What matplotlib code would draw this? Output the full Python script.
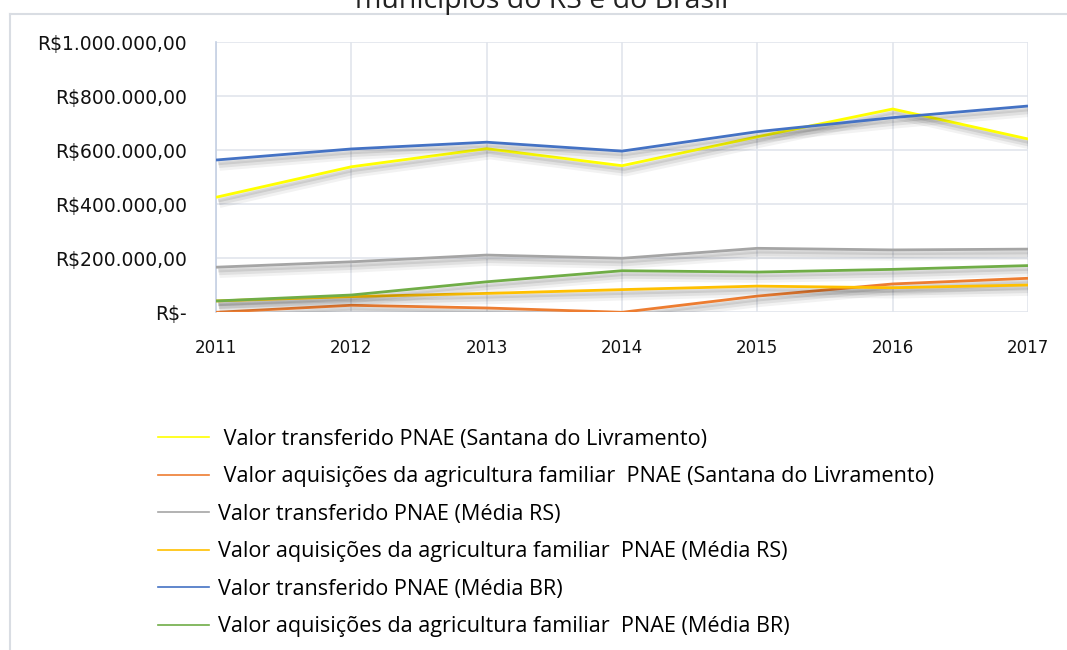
import matplotlib
matplotlib.use("Agg")
import matplotlib.pyplot as plt
import matplotlib.patheffects as pe
from matplotlib.lines import Line2D

years = [2011, 2012, 2013, 2014, 2015, 2016, 2017]

transf_santana = [426000, 539000, 606000, 543000, 650000, 753000, 642000]
aquis_santana = [0, 26000, 16000, 0, 60000, 105000, 126000]
transf_rs = [167000, 187000, 212000, 200000, 237000, 231000, 234000]
aquis_rs = [42000, 58000, 70000, 84000, 97000, 91000, 101000]
transf_br = [564000, 605000, 630000, 597000, 669000, 721000, 764000]
aquis_br = [42000, 64000, 113000, 154000, 149000, 159000, 173000]

labels = [
    " Valor transferido PNAE (Santana do Livramento)",
    " Valor aquisições da agricultura familiar  PNAE (Santana do Livramento)",
    "Valor transferido PNAE (Média RS)",
    "Valor aquisições da agricultura familiar  PNAE (Média RS)",
    "Valor transferido PNAE (Média BR)",
    "Valor aquisições da agricultura familiar  PNAE (Média BR)",
]
series = [transf_santana, aquis_santana, transf_rs, aquis_rs, transf_br, aquis_br]
colors = ["#FFFF00", "#ED7D31", "#A5A5A5", "#FFC000", "#4472C4", "#70AD47"]

yticks = [0, 200000, 400000, 600000, 800000, 1000000]
ytick_labels = ["R$-", "R$200.000,00", "R$400.000,00", "R$600.000,00",
                "R$800.000,00", "R$1.000.000,00"]

title = "municípios do RS e do Brasil"

plt.rcParams['font.family'] = ['Open Sans', 'DejaVu Sans']

W, H = 1067, 650
fig = plt.figure(figsize=(W / 100, H / 100), dpi=100)

# outer chart border (left and top only visible)
fig.add_artist(Line2D([10 / W, 10 / W], [0, 1 - 14 / H], transform=fig.transFigure,
                      color="#D9DDE3", lw=1.5))
fig.add_artist(Line2D([10 / W, 1], [1 - 14 / H, 1 - 14 / H], transform=fig.transFigure,
                      color="#D9DDE3", lw=1.5))

fig.text(542 / W, 1 - 8 / H, title, ha="center", va="baseline", fontsize=20.5, color="#222222")

ax = fig.add_axes([216 / W, 1 - 312.3 / H, (1028 - 216) / W, (312.3 - 42.3) / H])

shadow = [
    pe.SimpleLineShadow(offset=(1.5, -2.0), shadow_color="black", alpha=0.09, linewidth=3.5),
    pe.SimpleLineShadow(offset=(2.0, -3.5), shadow_color="black", alpha=0.07, linewidth=4.5),
    pe.SimpleLineShadow(offset=(2.5, -5.0), shadow_color="black", alpha=0.05, linewidth=5.5),
    pe.Normal(),
]

for vals, c in zip(series, colors):
    ax.plot(years, vals, color=c, lw=2.0, solid_capstyle="butt",
            path_effects=shadow, zorder=3)

ax.set_xlim(2011, 2017)
ax.set_ylim(0, 1000000)
ax.set_xticks(years)
ax.set_xticklabels([str(y) for y in years])
ax.set_yticks(yticks)
ax.set_yticklabels(ytick_labels)
for lab in ax.get_yticklabels():
    lab.set_fontfamily(['DejaVu Sans'])
    lab.set_fontsize(13.5)
for lab in ax.get_xticklabels():
    lab.set_fontfamily(['DejaVu Sans'])
    lab.set_fontsize(12)
ax.tick_params(axis="both", length=0, colors="#111111")
ax.tick_params(axis="y", pad=21)
ax.tick_params(axis="x", pad=19)
ax.grid(True, color="#E1E5EC", lw=1.2, zorder=0)
for s in ["top", "right", "bottom"]:
    ax.spines[s].set_visible(False)
ax.spines["left"].set_color("#C5D0E3")
ax.spines["left"].set_linewidth(1.2)
ax.set_axisbelow(True)

handles = [Line2D([], [], color=c, lw=1.2) for c in colors]
fig.legend(handles, labels, loc="upper left",
           bbox_to_anchor=(158 / W, 1 - 429 / H), frameon=False,
           fontsize=15.6, handlelength=2.35, handletextpad=0.42,
           labelspacing=0.76, borderaxespad=0, borderpad=0)

fig.savefig("out.png", dpi=100)
